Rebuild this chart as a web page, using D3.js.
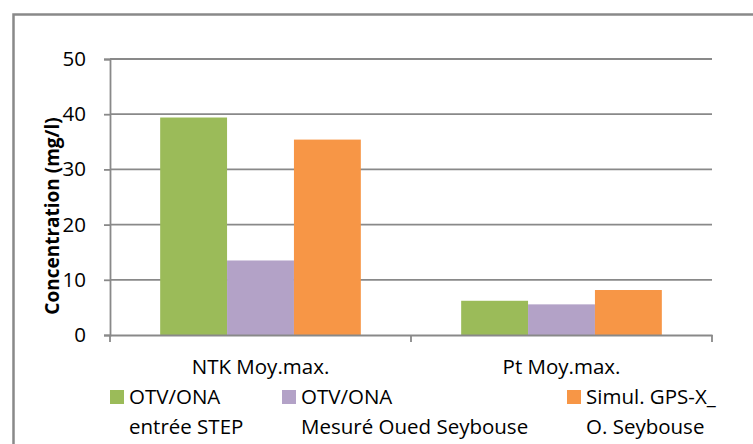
<!DOCTYPE html>
<meta charset="utf-8">
<head>
	<title>Concentration chart</title>
	<script src="https://d3js.org/d3.v7.min.js"></script>
	<style>
		body { margin: 0; background: #fff; overflow: hidden; }
		text { font-family: "Open Sans", sans-serif; fill: #000; }
	</style>
</head>
<body>
<script>

	// data
	const categories = ['NTK Moy.max.', 'Pt Moy.max.'];
	const seriesNames = ['OTV/ONA entrée STEP', 'OTV/ONA Mesuré Oued Seybouse', 'Simul. GPS-X_ O. Seybouse'];
	const legendLines = [['OTV/ONA', 'entrée STEP'], ['OTV/ONA', 'Mesuré Oued Seybouse'], ['Simul. GPS-X_', 'O. Seybouse']];
	const entreeStep = [39.4, 6.2];
	const mesureOued = [13.5, 5.55];
	const simulGps = [35.4, 8.15];
	const yTicks = [0, 10, 20, 30, 40, 50];
	const colors = ['#9BBB59', '#B3A2C7', '#F79646'];

	const width = 753, height = 444;
	const plot = {left: 110, right: 712, top: 59, bottom: 335};
	const gridColor = '#898989';
	const fontSize = '20.5px';

	const seriesValues = [entreeStep, mesureOued, simulGps];

	const svg = d3.select('body')
		.append('svg')
		.attr('width', width)
		.attr('height', height);

	// outer frame (runs off the right and bottom edges)
	svg.append('rect')
		.attr('x', 13.5).attr('y', 14.5)
		.attr('width', 800).attr('height', 500)
		.attr('fill', 'none')
		.attr('stroke', gridColor)
		.attr('stroke-width', 2.5);

	const x = d3.scaleBand()
		.domain(categories)
		.range([plot.left, plot.right])
		.padding(0);

	const xInner = d3.scaleBand()
		.domain(seriesNames)
		.range([0, x.bandwidth()])
		.paddingInner(0)
		.paddingOuter(0.75);

	const y = d3.scaleLinear()
		.domain([0, 50])
		.range([plot.bottom, plot.top]);

	// gridlines
	svg.append('g')
		.selectAll('line')
		.data(yTicks.filter(d => d > 0))
		.enter().append('line')
			.attr('x1', plot.left).attr('x2', plot.right)
			.attr('y1', d => y(d)).attr('y2', d => y(d))
			.attr('stroke', gridColor)
			.attr('stroke-width', 1.8);

	// bars
	const groups = svg.append('g')
		.selectAll('g')
		.data(seriesNames)
		.enter().append('g')
			.attr('fill', (d, i) => colors[i]);

	groups.selectAll('rect')
		.data((s, i) => categories.map((c, j) => ({cat: c, series: s, value: seriesValues[i][j]})))
		.enter().append('rect')
			.attr('x', d => x(d.cat) + xInner(d.series))
			.attr('width', xInner.bandwidth())
			.attr('y', d => y(d.value))
			.attr('height', d => y(0) - y(d.value));

	// y axis
	const yAxis = svg.append('g')
		.attr('transform', `translate(${plot.left},0)`)
		.call(d3.axisLeft(y).tickValues(yTicks).tickSize(6).tickPadding(18));
	yAxis.select('.domain').attr('stroke', gridColor).attr('stroke-width', 1.8);
	yAxis.selectAll('.tick line').attr('stroke', gridColor).attr('stroke-width', 1.8);
	yAxis.selectAll('.tick text')
		.style('font-family', '"Open Sans", sans-serif')
		.style('font-size', fontSize)
		.attr('fill', '#000');

	// x axis
	const xAxis = svg.append('g')
		.attr('transform', `translate(0,${plot.bottom})`)
		.call(d3.axisBottom(x).tickSize(0).tickPadding(24));
	xAxis.select('.domain').attr('stroke', gridColor).attr('stroke-width', 1.8);
	xAxis.selectAll('.tick text')
		.style('font-family', '"Open Sans", sans-serif')
		.style('font-size', fontSize)
		.attr('fill', '#000');

	// category boundary ticks
	svg.append('g')
		.selectAll('line')
		.data([categories[0], categories[1], null])
		.enter().append('line')
			.attr('x1', d => d ? x(d) : plot.right)
			.attr('x2', d => d ? x(d) : plot.right)
			.attr('y1', plot.bottom).attr('y2', plot.bottom + 7)
			.attr('stroke', gridColor)
			.attr('stroke-width', 1.8);

	// y axis title
	svg.append('text')
		.attr('transform', `translate(59,216) rotate(-90)`)
		.attr('text-anchor', 'middle')
		.style('font-weight', 'bold')
		.style('font-size', '19px')
		.text('Concentration (mg/l)');

	// legend
	const legendX = [110, 282, 567];
	const legend = svg.append('g')
		.selectAll('g')
		.data(legendLines)
		.enter().append('g')
			.attr('transform', (d, i) => `translate(${legendX[i]},390)`);

	legend.append('rect')
		.attr('width', 14).attr('height', 14)
		.attr('fill', (d, i) => colors[i]);

	legend.append('text')
		.attr('x', 19).attr('y', 14)
		.style('font-size', fontSize)
		.text(d => d[0]);

	legend.append('text')
		.attr('x', 19).attr('y', 44)
		.style('font-size', fontSize)
		.text(d => d[1]);

</script>
</body>
</html>
